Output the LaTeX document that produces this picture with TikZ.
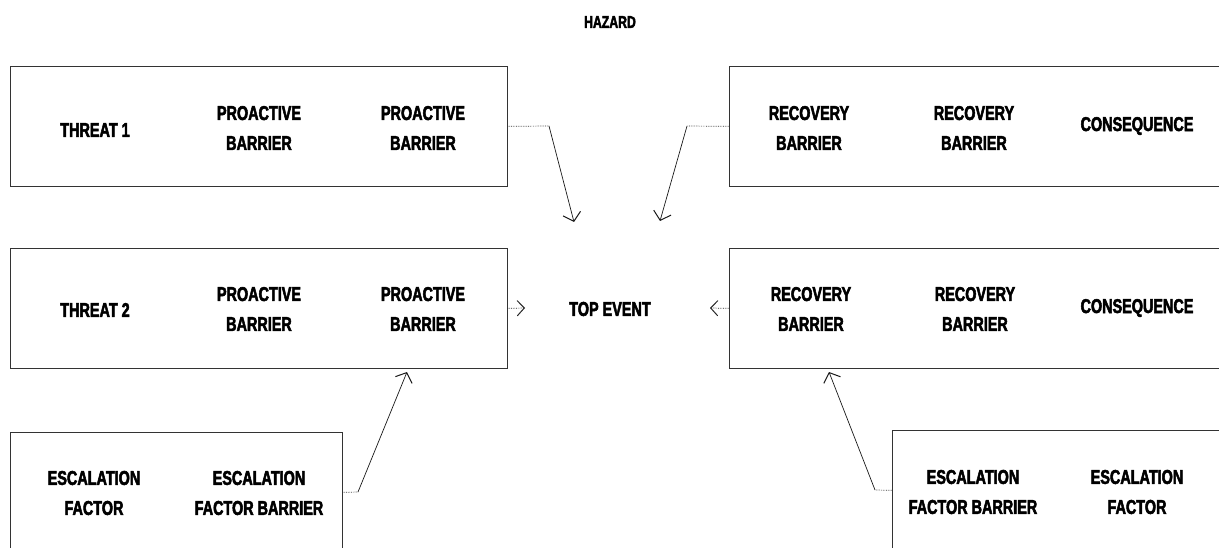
\documentclass[tikz,border=0pt]{standalone}
\usepackage{fontspec}
\newfontfamily\heavy{Liberation Sans}[UprightFont={* Bold}, FakeStretch=0.72, FakeBold=2.5]
\usetikzlibrary{arrows.meta}
\tikzset{
  box/.style={draw=black!80, line width=0.7pt, minimum width=#1, minimum height=120pt, inner sep=0pt, anchor=north west},
  lbl/.style={font=\fontsize{20}{30}\selectfont\heavy, align=center, inner sep=0pt},
  smalllbl/.style={font=\fontsize{17}{20}\selectfont\heavy, inner sep=0pt},
  flat/.style={draw=black!80, line width=0.7pt, densely dotted},
  slope/.style={draw=black!90, line width=0.7pt, -{Straight Barb[length=8pt,width=18pt,line width=1pt]}},
  tip/.style={draw=black!85, line width=0.7pt, densely dotted, -{Straight Barb[length=7pt,width=15pt,line width=1pt,line cap=round]}}
}
\begin{document}
\begin{tikzpicture}[x=1pt,y=-1pt]
\clip (0,0) rectangle (1219,548);
\fill[white] (0,0) rectangle (1219,548);

\node[smalllbl] (hazard) at (610,22) {HAZARD};
\node[lbl] (top) at (610,309) {TOP EVENT};

% boxes
\node[box=497pt] (b1) at (10,66) {};
\node[box=511pt] (b2) at (729,66) {};
\node[box=497pt] (b3) at (10,248) {};
\node[box=511pt] (b4) at (729,248) {};
\node[box=332pt] (b5) at (10,432) {};
\node[box=340pt] (b6) at (892,430) {};

% texts row 1
\node[lbl] (t1) at (95,130) {THREAT 1};
\node[lbl] (p11) at (259,128) {PROACTIVE\\BARRIER};
\node[lbl] (p12) at (423,128) {PROACTIVE\\BARRIER};
\node[lbl] (r11) at (809,128) {RECOVERY\\BARRIER};
\node[lbl] (r12) at (974,128) {RECOVERY\\BARRIER};
\node[lbl] (c1) at (1137,126) {CONSEQUENCE};

% texts row 2
\node[lbl] (t2) at (95,310) {THREAT 2};
\node[lbl] (p21) at (259,309) {PROACTIVE\\BARRIER};
\node[lbl] (p22) at (423,309) {PROACTIVE\\BARRIER};
\node[lbl] (r21) at (811,309) {RECOVERY\\BARRIER};
\node[lbl] (r22) at (975,309) {RECOVERY\\BARRIER};
\node[lbl] (c2) at (1137,308) {CONSEQUENCE};

% texts row 3
\node[lbl] (e1) at (94,493) {ESCALATION\\FACTOR};
\node[lbl] (eb1) at (259,493) {ESCALATION\\FACTOR BARRIER};
\node[lbl] (eb2) at (973,492) {ESCALATION\\FACTOR BARRIER};
\node[lbl] (e2) at (1137,492) {ESCALATION\\FACTOR};

% connector coordinates
\coordinate (k1) at (549,126);
\coordinate (a1) at (574,222);
\coordinate (k2) at (687,126);
\coordinate (a2) at (660,221);
\coordinate (a3) at (525,308);
\coordinate (a4) at (710,308);
\coordinate (k5) at (358,492);
\coordinate (a5) at (407,372);
\coordinate (k6) at (875,490);
\coordinate (a6) at (829,372);

% connectors
\draw[flat] (b1.east) -- (k1);
\draw[slope] (k1) -- (a1);
\draw[flat] (b2.west) -- (k2);
\draw[slope] (k2) -- (a2);
\draw[tip] (b3.east) -- (a3);
\draw[tip] (b4.west) -- (a4);
\draw[flat] (b5.east) -- (k5);
\draw[slope] (k5) -- (a5);
\draw[flat] (b6.west) -- (k6);
\draw[slope] (k6) -- (a6);
\end{tikzpicture}
\end{document}
